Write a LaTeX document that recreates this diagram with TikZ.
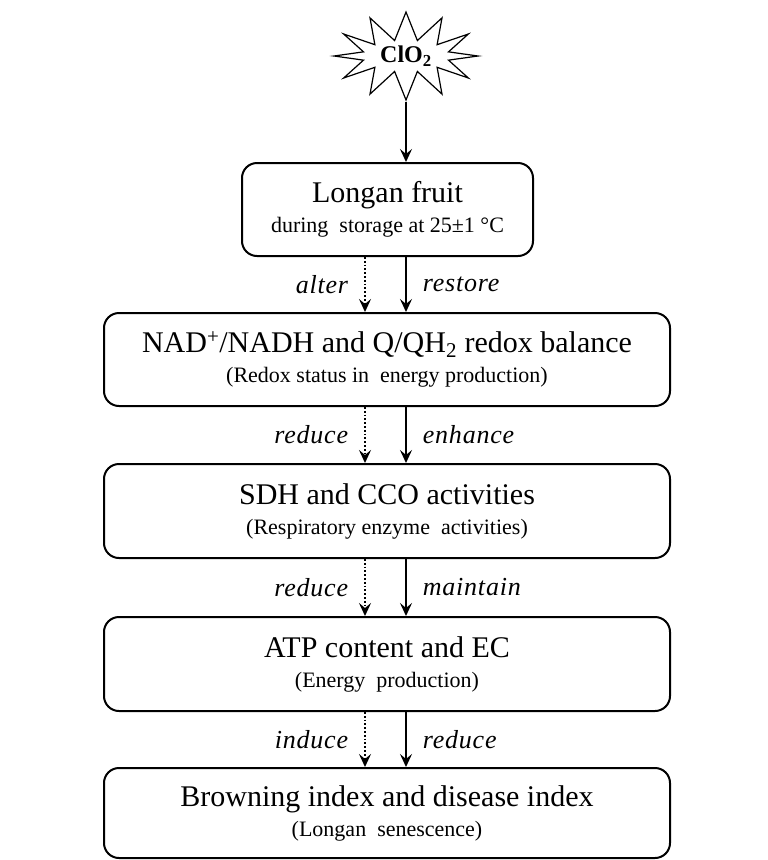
\documentclass[tikz,border=0pt]{standalone}
\usepackage{fontspec}
\setmainfont{Liberation Serif}
\usetikzlibrary{shapes.symbols,arrows.meta}
\begin{document}
\begin{tikzpicture}[x=1pt,y=-1pt,
  box/.style={draw,line width=2pt,rounded corners=15pt,align=center,inner sep=0pt,
    font=\fontsize{22}{30}\selectfont},
  flow/.style={-{Stealth[length=13pt,width=12pt,inset=5pt]},line width=1.8pt},
  lab/.style={font=\fontsize{26}{30}\selectfont\itshape\addfontfeature{LetterSpace=3},inner sep=16pt}]
\useasboundingbox (0,0) rectangle (768,860);
\node[draw,line width=1.2pt,shape=starburst,starburst points=12,starburst point height=28pt,
  random starburst=0,minimum width=144pt,minimum height=88pt,inner sep=0pt,
  font=\fontsize{24}{28}\selectfont\bfseries] (clo) at (406,56) {ClO\textsubscript{2}};
\node[box,minimum width=291pt,minimum height=93pt] (fruit) at (387.5,209.5)
  {{\fontsize{30}{30}\selectfont Longan fruit}\\{during \ storage at 25±1 °C}};
\node[box,minimum width=566pt,minimum height=93pt] (redox) at (387,359.5)
  {{\fontsize{30}{30}\selectfont NAD\textsuperscript{+}/NADH and Q/QH\textsubscript{2} redox balance}\\{(Redox status in \ energy production)}};
\node[box,minimum width=566pt,minimum height=94pt] (enzyme) at (387,511)
  {{\fontsize{30}{30}\selectfont SDH and CCO activities}\\{(Respiratory enzyme \ activities)}};
\node[box,minimum width=566pt,minimum height=94pt] (atp) at (387,664)
  {{\fontsize{30}{30}\selectfont ATP content and EC}\\{(Energy \ production)}};
\node[box,minimum width=566pt,minimum height=90pt] (brown) at (387,813)
  {{\fontsize{30}{30}\selectfont Browning index and disease index}\\{(Longan \ senescence)}};
\coordinate (xs) at (406,0);
\coordinate (xd) at (365,0);
\draw[flow] (clo.south -| xs) -- (fruit.north -| xs);
\draw[flow,dotted] (fruit.south -| xd) -- node[lab,left]{alter} (redox.north -| xd);
\draw[flow] (fruit.south -| xs) -- node[lab,right]{restore} (redox.north -| xs);
\draw[flow,dotted] (redox.south -| xd) -- node[lab,left]{reduce} (enzyme.north -| xd);
\draw[flow] (redox.south -| xs) -- node[lab,right]{enhance} (enzyme.north -| xs);
\draw[flow,dotted] (enzyme.south -| xd) -- node[lab,left]{reduce} (atp.north -| xd);
\draw[flow] (enzyme.south -| xs) -- node[lab,right]{maintain} (atp.north -| xs);
\draw[flow,dotted] (atp.south -| xd) -- node[lab,left]{induce} (brown.north -| xd);
\draw[flow] (atp.south -| xs) -- node[lab,right]{reduce} (brown.north -| xs);
\end{tikzpicture}
\end{document}
